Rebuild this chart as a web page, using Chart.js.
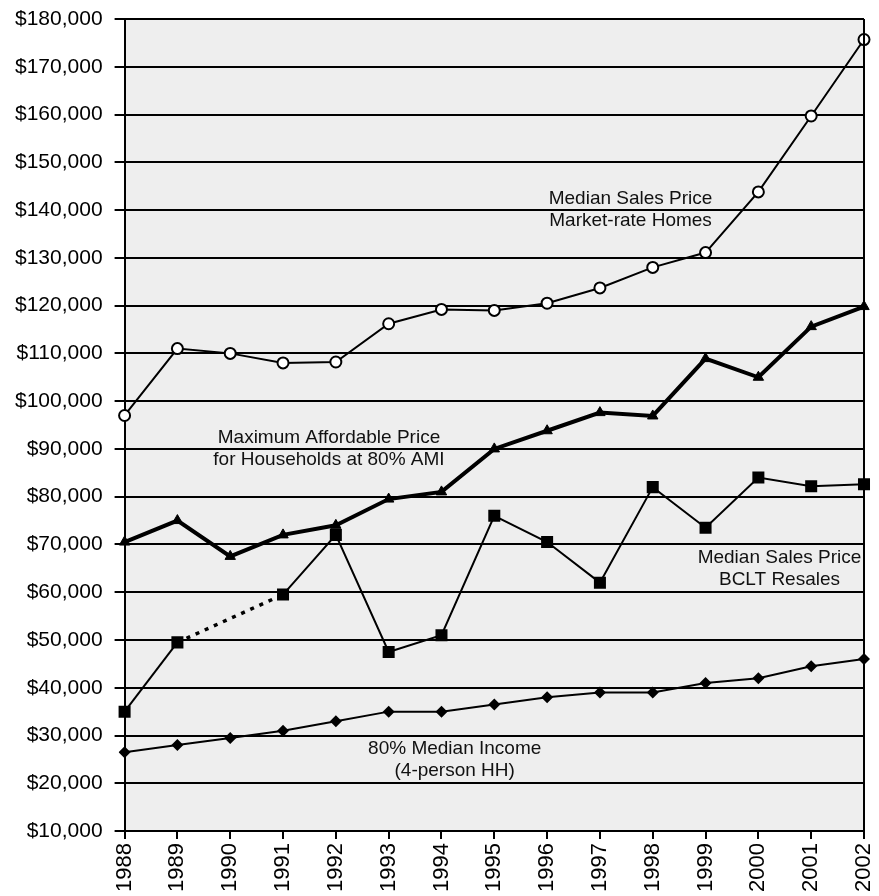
<!DOCTYPE html>
<html>
<head>
<meta charset="utf-8">
<script src="https://cdn.jsdelivr.net/npm/chart.js@4.4.0/dist/chart.umd.min.js"></script>
<style>
  html, body { margin: 0; padding: 0; background: #ffffff; }
  #wrap { width: 879px; height: 896px; }
</style>
</head>
<body>
<div id="wrap"><canvas id="priceChart" width="879" height="896"></canvas></div>
<script>
// years on the x axis
var years = ['1988', '1989', '1990', '1991', '1992', '1993', '1994', '1995',
             '1996', '1997', '1998', '1999', '2000', '2001', '2002'];

// Median sales price, market-rate homes
var marketPrice = [97000, 111000, 110000, 108000, 108200, 116200, 119200, 119000,
                   120500, 123700, 128000, 131100, 143800, 159700, 175700];

// Maximum affordable price for households at 80% AMI
var affordablePrice = [70500, 75000, 67500, 72000, 74000, 79500, 81000, 90000,
                       93800, 97600, 96900, 108900, 105000, 115600, 119800];

// Median sales price, BCLT resales (no figure for 1990)
var bcltPrice = [35000, 49500, null, 59500, 72000, 47500, 51000, 76000,
                 70500, 62000, 82000, 73500, 84000, 82200, 82600];

// 80% median income, 4-person household
var medianIncome = [26500, 28000, 29500, 31000, 33000, 35000, 35000, 36500,
                    38000, 39000, 39000, 41000, 42000, 44500, 46000];

// y axis range
var yMin = 10000, yMax = 180000, yStep = 10000;

// text notes inside the plot
var notes = [
  { lines: ['Median Sales Price', 'Market-rate Homes'], x: 9.58, y: 140000 },
  { lines: ['Maximum Affordable Price', 'for Households at 80% AMI'], x: 3.87, y: 90000 },
  { lines: ['Median Sales Price', 'BCLT Resales'], x: 12.4, y: 65000 },
  { lines: ['80% Median Income', '(4-person HH)'], x: 6.25, y: 24900 }
];

var FONT = '"Liberation Sans", Arial, sans-serif';

// plot background + right border + notes
var paperPlugin = {
  id: 'paper',
  beforeDraw: function(chart) {
    var a = chart.chartArea, c = chart.ctx;
    c.save();
    c.fillStyle = '#eeeeee';
    c.fillRect(a.left, a.top, a.right - a.left, a.bottom - a.top);
    c.restore();
  },
  afterDatasetsDraw: function(chart) {
    var a = chart.chartArea, c = chart.ctx;
    c.save();
    c.strokeStyle = '#000';
    c.lineWidth = 2;
    c.beginPath();
    c.moveTo(a.right, a.top);
    c.lineTo(a.right, a.bottom);
    c.stroke();
    c.fillStyle = '#111';
    c.font = '19px ' + FONT;
    c.textAlign = 'center';
    c.textBaseline = 'middle';
    var xs = chart.scales.x, ys = chart.scales.y;
    notes.forEach(function(n) {
      var px = xs.getPixelForValue(n.x);
      var py = ys.getPixelForValue(n.y);
      var lh = 22;
      var top = py - (n.lines.length - 1) * lh / 2;
      n.lines.forEach(function(t, i) {
        c.fillText(t, px, top + i * lh);
      });
    });
    c.restore();
  }
};

var dashGap = function(ctx, value) {
  return ctx.p0.skip || ctx.p1.skip ? value : undefined;
};

var ctx = document.getElementById('priceChart').getContext('2d');

var chart = new Chart(ctx, {
  type: 'line',
  data: {
    labels: years,
    datasets: [
      {
        label: 'Median Sales Price Market-rate Homes',
        data: marketPrice,
        borderColor: '#000',
        borderWidth: 2,
        pointStyle: 'circle',
        pointRadius: 5.5,
        pointBorderWidth: 2,
        pointBackgroundColor: '#fff',
        pointBorderColor: '#000',
        tension: 0
      },
      {
        label: 'Maximum Affordable Price for Households at 80% AMI',
        data: affordablePrice,
        borderColor: '#000',
        borderWidth: 4,
        pointStyle: 'triangle',
        pointRadius: 6,
        pointBorderWidth: 1,
        pointBackgroundColor: '#000',
        pointBorderColor: '#000',
        tension: 0
      },
      {
        label: 'Median Sales Price BCLT Resales',
        data: bcltPrice,
        borderColor: '#000',
        borderWidth: 2,
        pointStyle: 'rect',
        pointRadius: 8.5,
        pointBorderWidth: 0,
        pointBackgroundColor: '#000',
        spanGaps: true,
        segment: {
          borderDash: function(c) { return dashGap(c, [4, 6]); },
          borderWidth: function(c) { return dashGap(c, 3.5); }
        },
        tension: 0
      },
      {
        label: '80% Median Income (4-person HH)',
        data: medianIncome,
        borderColor: '#000',
        borderWidth: 2,
        pointStyle: 'rectRot',
        pointRadius: 6,
        pointBorderWidth: 0,
        pointBackgroundColor: '#000',
        tension: 0
      }
    ]
  },
  options: {
    responsive: false,
    animation: false,
    layout: { padding: { top: 19, right: 15, left: 3, bottom: 0 } },
    plugins: {
      legend: { display: false },
      tooltip: { enabled: false }
    },
    scales: {
      x: {
        offset: false,
        // let the plot run to the edges, rotated year labels may hang over
        afterFit: function(scale) {
          scale.paddingLeft = 0;
          scale.paddingRight = 0;
        },
        grid: {
          drawOnChartArea: false,
          drawTicks: true,
          tickLength: 8,
          color: '#000',
          lineWidth: 2
        },
        border: { color: '#000', width: 2 },
        ticks: {
          color: '#000',
          font: { family: FONT, size: 22 },
          minRotation: 90,
          maxRotation: 90,
          padding: 4,
          autoSkip: false
        }
      },
      y: {
        min: yMin,
        max: yMax,
        afterFit: function(scale) {
          scale.paddingTop = 0;
          scale.paddingBottom = 0;
        },
        grid: {
          color: '#000',
          lineWidth: 2,
          tickLength: 10
        },
        border: { color: '#000', width: 2 },
        ticks: {
          stepSize: yStep,
          color: '#000',
          font: { family: FONT, size: 21 },
          padding: 12,
          callback: function(v) { return '$' + v.toLocaleString('en-US'); }
        }
      }
    }
  },
  plugins: [paperPlugin]
});
</script>
</body>
</html>
